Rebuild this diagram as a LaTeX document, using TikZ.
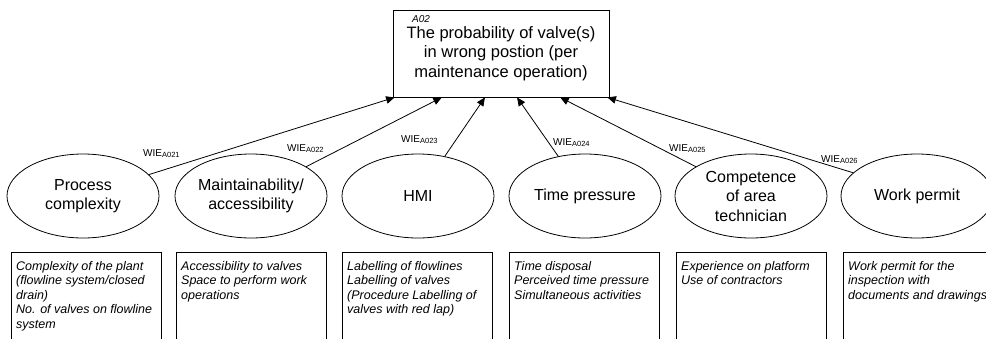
\documentclass[tikz,border=0pt]{standalone}
\usepackage{fontspec}
\setmainfont{Liberation Sans}
\usetikzlibrary{shapes.geometric,arrows.meta,calc}
\begin{document}
\begin{tikzpicture}[x=1pt,y=-1pt,
  every node/.style={inner sep=0pt},
  goal/.style={draw,line width=0.8pt,rectangle,minimum width=216pt,minimum height=87pt,
    align=center,font=\fontsize{16.5}{19.5}\selectfont},
  tag/.style={anchor=west,font=\fontsize{10}{12}\selectfont\itshape},
  factor/.style={draw,line width=0.8pt,ellipse,minimum width=152pt,minimum height=84pt},
  ftext/.style={align=center,font=\fontsize{16}{19.5}\selectfont},
  infobox/.style={draw,line width=0.8pt,rectangle,anchor=north west,
    minimum width=150pt,minimum height=90pt},
  infotext/.style={anchor=north west,align=left,
    font=\fontsize{12.5}{14.5}\selectfont\itshape},
  weight/.style={anchor=base west,font=\fontsize{10}{12}\selectfont},
  conn/.style={line width=0.8pt,-{Triangle[length=8.5pt,width=7.5pt]}}
]
\useasboundingbox (0,0) rectangle (986,338);

% the assessed event
\node[goal] (top) at (501,53.5) {The probability of valve(s)\\in wrong postion (per\\maintenance operation)};
\node[tag] (topid) at (412,19) {A02};

% influencing factors
\node[factor] (f1) at (83,196) {};
\node[factor] (f2) at (251,196) {};
\node[factor] (f3) at (418,196) {};
\node[factor] (f4) at (585,196) {};
\node[factor] (f5) at (751,196) {};
\node[factor] (f6) at (917,196) {};
\node[ftext] (t1) at (f1) {Process\\complexity};
\node[ftext] (t2) at (f2) {Maintainability/\\accessibility};
\node[ftext] (t3) at (f3) {HMI};
\node[ftext] (t4) at (f4) {Time pressure};
\node[ftext] (t5) at (f5) {Competence\\of area\\technician};
\node[ftext] (t6) at (f6) {Work permit};

% connectors into the bottom edge of the event box
\draw[conn] (f1.18)  -- ($(top.south west)!0.009!(top.south east)$);
\draw[conn] (f2.28)  -- ($(top.south west)!0.227!(top.south east)$);
\draw[conn] (f3.56)  -- ($(top.south west)!0.426!(top.south east)$);
\draw[conn] (f4.124) -- ($(top.south west)!0.574!(top.south east)$);
\draw[conn] (f5.152) -- ($(top.south west)!0.773!(top.south east)$);
\draw[conn] (f6.160) -- ($(top.south west)!0.991!(top.south east)$);

% weights
\newcommand{\wie}[1]{WIE\raisebox{-1.8pt}{\fontsize{7.5}{8}\selectfont A0#1}}
\node[weight] (w1) at (143,156) {\wie{21}};
\node[weight] (w2) at (287,151) {\wie{22}};
\node[weight] (w3) at (401,142) {\wie{23}};
\node[weight] (w4) at (553,145) {\wie{24}};
\node[weight] (w5) at (669,151) {\wie{25}};
\node[weight] (w6) at (821,162) {\wie{26}};

% indicator boxes
\node[infobox] (b1) at (11,252) {};
\node[infobox] (b2) at (176,252) {};
\node[infobox] (b3) at (342,252) {};
\node[infobox] (b4) at (509,252) {};
\node[infobox] (b5) at (676,252) {};
\node[infobox] (b6) at (843,252) {};
\node[infotext] (d1) at ($(b1.north west)+(5,9)$) {Complexity of the plant\\(flowline system/closed\\drain)\\No. of valves on flowline\\system};
\node[infotext] (d2) at ($(b2.north west)+(5,9)$) {Accessibility to valves\\Space to perform work\\operations};
\node[infotext] (d3) at ($(b3.north west)+(5,9)$) {Labelling of flowlines\\Labelling of valves\\(Procedure Labelling of\\valves with red lap)};
\node[infotext] (d4) at ($(b4.north west)+(5,9)$) {Time disposal\\Perceived time pressure\\Simultaneous activities};
\node[infotext] (d5) at ($(b5.north west)+(5,9)$) {Experience on platform\\Use of contractors};
\node[infotext] (d6) at ($(b6.north west)+(5,9)$) {Work permit for the\\inspection with\\documents and drawings};
\end{tikzpicture}
\end{document}
